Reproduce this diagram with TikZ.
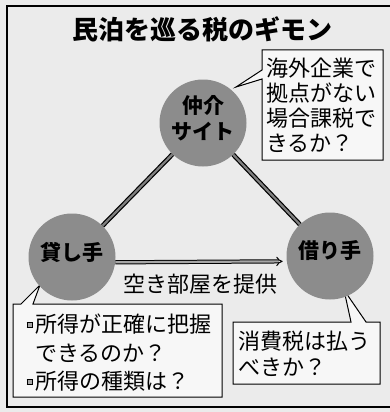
\documentclass[tikz,border=0pt]{standalone}
\usepackage{fontspec}
\newfontfamily\jp{Noto Sans CJK JP}
\usetikzlibrary{arrows.meta}
\newcommand{\sqbullet}{\llap{\raisebox{5.5pt}{\fboxsep=0pt\fboxrule=1pt\fbox{\color{black!35}\rule{4pt}{4pt}}}\hspace{2.5pt}}}
\begin{document}
\begin{tikzpicture}[x=1pt,y=-1pt,
  hub/.style={circle, fill=black!45, minimum size=87pt, inner sep=0pt},
  hublabel/.style={font=\jp\bfseries\fontsize{21}{26}\selectfont, align=center, yshift=5pt},
  link/.style={draw=black, line width=1.2pt, double=black!50, double distance=2.2pt},
  flow/.style={draw=black, line width=1pt, double=black!35, double distance=2.2pt, -{Implies[scale=1.7]}, shorten >=4pt},
  callout/.style={draw=black, line width=1pt, fill=black!3, line join=miter},
  txt/.style={font=\jp\fontsize{22}{25}\selectfont, align=left, inner sep=0pt, anchor=north west},
]
\useasboundingbox (0,0) rectangle (390,412);
\fill[black!8] (0,0) rectangle (390,412);
\draw[line width=1.8pt] (7,6) rectangle (398,407);

% title
\node[font=\jp\bfseries\fontsize{26}{30}\selectfont] (title) at (202,29) {民泊を巡る税のギモン};

% callout shapes (drawn below circles)
\coordinate (tipA) at (236,87);
\coordinate (tipB) at (40,285);
\coordinate (tipC) at (344,290);
\draw[callout] (262,50) -- (383,50) -- (383,160) -- (262,160) -- (262,79) -- (tipA) -- (262,70) -- cycle;
\draw[callout] (13,304) -- (21,304) -- (tipB) -- (33,304) -- (222,304) -- (222,397) -- (13,397) -- cycle;
\draw[callout] (233,322) -- (351,322) -- (tipC) -- (366,322) -- (380,322) -- (380,384) -- (233,384) -- cycle;

% hubs
\node[hub, label={[hublabel]center:仲介\\サイト}] (chukai) at (203,123) {};
\node[hub, label={[hublabel]center:貸し手}] (kashi) at (72,257) {};
\node[hub, label={[hublabel]center:借り手}] (kari) at (330,256) {};

% connectors
\draw[link] (chukai) -- (kashi);
\draw[link] (chukai) -- (kari);
\draw[flow] (kashi.-7) -- (kari.187);

\node[font=\jp\fontsize{22}{26}\selectfont] (flowlabel) at (200,284) {空き部屋を提供};

% callout texts
\node[txt] (qsite) at (266,58) {海外企業で\\拠点がない\\場合課税で\\きるか？};
\node[txt, font=\jp\fontsize{22}{28.5}\selectfont] (qlender) at (35,314) {\sqbullet 所得が正確に把握\\できるのか？\\\sqbullet 所得の種類は？};
\node[txt, font=\jp\fontsize{22}{26}\selectfont] (qborrower) at (238,331) {消費税は払う\\べきか？};
\end{tikzpicture}
\end{document}
